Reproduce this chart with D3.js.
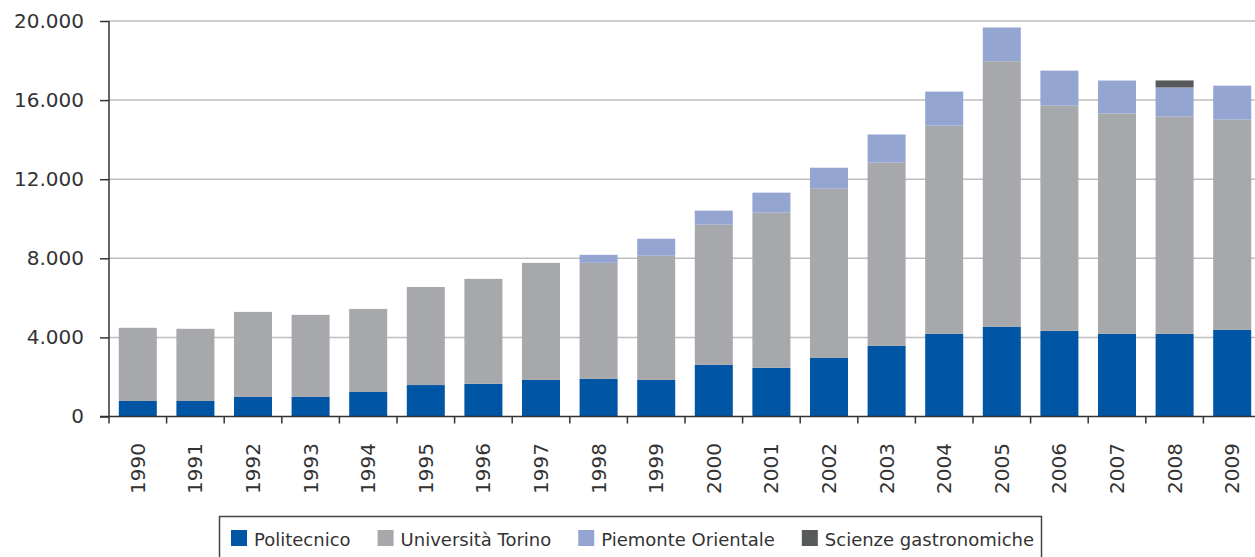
<!DOCTYPE html>
<html>
<head>
<meta charset="utf-8">
<script src="https://cdn.jsdelivr.net/npm/d3@7"></script>
<style>
  body { margin: 0; background: #fff; }
  svg { display: block; font-family: "DejaVu Sans", sans-serif; }
</style>
</head>
<body>
<svg id="chart"></svg>
<script>
// data
const years = ['1990','1991','1992','1993','1994','1995','1996','1997','1998','1999',
               '2000','2001','2002','2003','2004','2005','2006','2007','2008','2009']
const politecnico = [785, 785, 990, 990, 1240, 1590, 1650, 1850, 1900, 1850,
                     2610, 2460, 2960, 3570, 4180, 4530, 4330, 4180, 4180, 4380]
const torino = [3700, 3650, 4300, 4150, 4200, 4960, 5310, 5920, 5870, 6280,
                7090, 7850, 8560, 9270, 10530, 13430, 11390, 11140, 10990, 10630]
const piemonte = [0, 0, 0, 0, 0, 0, 0, 0, 405, 860,
                  710, 1010, 1060, 1420, 1720, 1710, 1770, 1670, 1470, 1720]
const gastronomiche = [0, 0, 0, 0, 0, 0, 0, 0, 0, 0,
                       0, 0, 0, 0, 0, 0, 0, 0, 354, 0]
const seriesNames = ['Politecnico', 'Università Torino', 'Piemonte Orientale', 'Scienze gastronomiche']
const colors = ['#0055a4', '#a7a8ac', '#95a5d2', '#58595b']
const yTicks = [0, 4000, 8000, 12000, 16000, 20000]

const width = 1255, height = 557
const svg = d3.select('#chart').attr('width', width).attr('height', height)

const x0 = 109, bandW = 57.6
const x = d3.scaleBand().domain(years).range([x0, x0 + bandW * years.length]).paddingInner(0.34).paddingOuter(0.17)
const y = d3.scaleLinear().domain([0, 20000]).range([416.5, 21])

let rows = years.map((yr, i) => ({
    year: yr,
    s0: politecnico[i], s1: torino[i], s2: piemonte[i], s3: gastronomiche[i]
}))
const stack = d3.stack().keys(['s0', 's1', 's2', 's3'])(rows)

// grid
svg.append('g')
    .selectAll('line')
    .data(yTicks.filter(d => d > 0))
    .enter()
    .append('line')
    .attr('x1', x0).attr('x2', width)
    .attr('y1', d => y(d)).attr('y2', d => y(d))
    .attr('stroke', '#bebebe')
    .attr('stroke-width', 1.5)

// bars
svg.append('g')
    .selectAll('g')
    .data(stack)
    .enter()
    .append('g')
    .attr('fill', (d, i) => colors[i])
    .selectAll('rect')
    .data(d => d)
    .enter()
    .append('rect')
    .attr('x', d => x(d.data.year))
    .attr('width', x.bandwidth())
    .attr('y', d => y(d[1]))
    .attr('height', d => y(d[0]) - y(d[1]))

// y axis
const yAxis = svg.append('g')
    .attr('transform', `translate(${x0},0)`)
    .call(d3.axisLeft(y).tickValues(yTicks).tickSize(9).tickPadding(16)
        .tickFormat(d => d3.format(',')(d).replace(/,/g, '.')))
yAxis.select('.domain').remove()
yAxis.selectAll('line').attr('stroke', '#333').attr('stroke-width', 1.5)
yAxis.selectAll('text').attr('font-size', 20).attr('fill', '#333').attr('font-family', '"DejaVu Sans", sans-serif')

svg.append('line')
    .attr('x1', x0).attr('x2', x0)
    .attr('y1', y(20000)).attr('y2', y(0) + 7)
    .attr('stroke', '#333').attr('stroke-width', 1.5)

// x axis
svg.append('line')
    .attr('x1', x0 - 9).attr('x2', width)
    .attr('y1', y(0)).attr('y2', y(0))
    .attr('stroke', '#333').attr('stroke-width', 1.5)

svg.append('g')
    .selectAll('line')
    .data(years.slice(1))
    .enter()
    .append('line')
    .attr('x1', (d, i) => x0 + bandW * (i + 1))
    .attr('x2', (d, i) => x0 + bandW * (i + 1))
    .attr('y1', y(0)).attr('y2', y(0) + 7)
    .attr('stroke', '#333').attr('stroke-width', 1.5)

svg.append('g')
    .selectAll('text')
    .data(years)
    .enter()
    .append('text')
    .attr('transform', d => `translate(${x(d) + x.bandwidth() / 2 + 7},443) rotate(-90)`)
    .attr('text-anchor', 'end')
    .attr('font-size', 20)
    .attr('fill', '#333')
    .text(d => d)

// legend
const legend = svg.append('g')
legend.append('rect')
    .attr('x', 219.5).attr('y', 516.5)
    .attr('width', 822).attr('height', 60)
    .attr('fill', 'none').attr('stroke', '#444').attr('stroke-width', 1.5)

let lx = 231
seriesNames.forEach((name, i) => {
    legend.append('rect')
        .attr('x', lx).attr('y', 530)
        .attr('width', 16).attr('height', 16)
        .attr('fill', colors[i])
    let t = legend.append('text')
        .attr('x', lx + 23).attr('y', 546)
        .attr('font-size', 18)
        .attr('fill', '#333')
        .text(name)
    lx += 23 + t.node().getComputedTextLength() + 27
})
</script>
</body>
</html>
